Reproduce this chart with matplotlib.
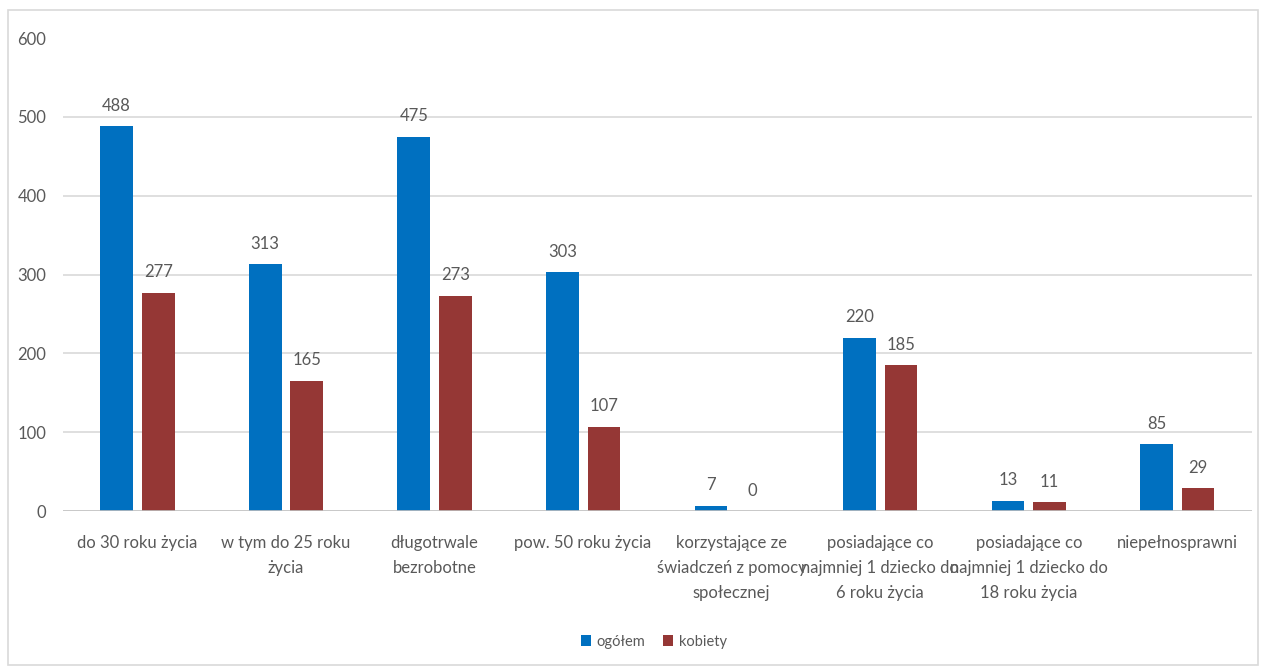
import numpy as np
import matplotlib.pyplot as plt
from matplotlib.patches import Rectangle

kategorie = ['do 30 roku życia',
             'w tym do 25 roku\nżycia',
             'długotrwale\nbezrobotne',
             'pow. 50 roku życia',
             'korzystające ze\nświadczeń z pomocy\nspołecznej',
             'posiadające co\nnajmniej 1 dziecko do\n6 roku życia',
             'posiadające co\nnajmniej 1 dziecko do\n18 roku życia',
             'niepełnosprawni']
ogolem = [488, 313, 475, 303, 7, 220, 13, 85]
kobiety = [277, 165, 273, 107, 0, 185, 11, 29]
y_ticks = [0, 100, 200, 300, 400, 500, 600]

plt.rcParams['font.family'] = ['Lato', 'DejaVu Sans']
szary = '#595959'

fig = plt.figure(figsize=(12.63, 6.68), dpi=100)
ax = fig.add_axes([0.05, 0.235, 0.941, 0.708])

x = np.arange(len(kategorie))
w = 0.22
gap = 0.03
b1 = ax.bar(x - w / 2 - gap, ogolem, w, color='#0070C0', label='ogółem', zorder=3)
b2 = ax.bar(x + w / 2 + gap, kobiety, w, color='#953735', label='kobiety', zorder=3)

for bars, vals in ((b1, ogolem), (b2, kobiety)):
    for r, v in zip(bars, vals):
        ax.annotate(str(v), (r.get_x() + r.get_width() / 2, v),
                    xytext=(0, 9), textcoords='offset points',
                    ha='center', va='bottom', fontsize=12, color=szary)

ax.set_xlim(-0.5, len(kategorie) - 0.5)
ax.set_ylim(0, 600)
ax.set_yticks(y_ticks)
ax.set_xticks(x)
ax.set_xticklabels(kategorie, fontsize=12, color=szary, linespacing=1.7)
ax.tick_params(axis='y', labelsize=12, labelcolor=szary, length=0, pad=12)
ax.tick_params(axis='x', length=0, pad=17)
for yy in y_ticks[1:-1]:
    ax.axhline(yy, color='#D9D9D9', lw=1.2, zorder=1)
ax.axhline(0, color='#BFBFBF', lw=1.2, zorder=4)
for s in ax.spines.values():
    s.set_visible(False)

ax.legend(loc='center', bbox_to_anchor=(0.497, -0.276), ncol=2, frameon=False,
          fontsize=10.5, handlelength=0.7, handleheight=0.7, handletextpad=0.4,
          columnspacing=1.2, labelcolor=szary)

fig.patches.append(Rectangle((8 / 1263, 3 / 668), 1250 / 1263, 655 / 668,
                             transform=fig.transFigure, fill=False,
                             edgecolor='#D9D9D9', lw=1.2))

fig.savefig('out.png', dpi=100)
